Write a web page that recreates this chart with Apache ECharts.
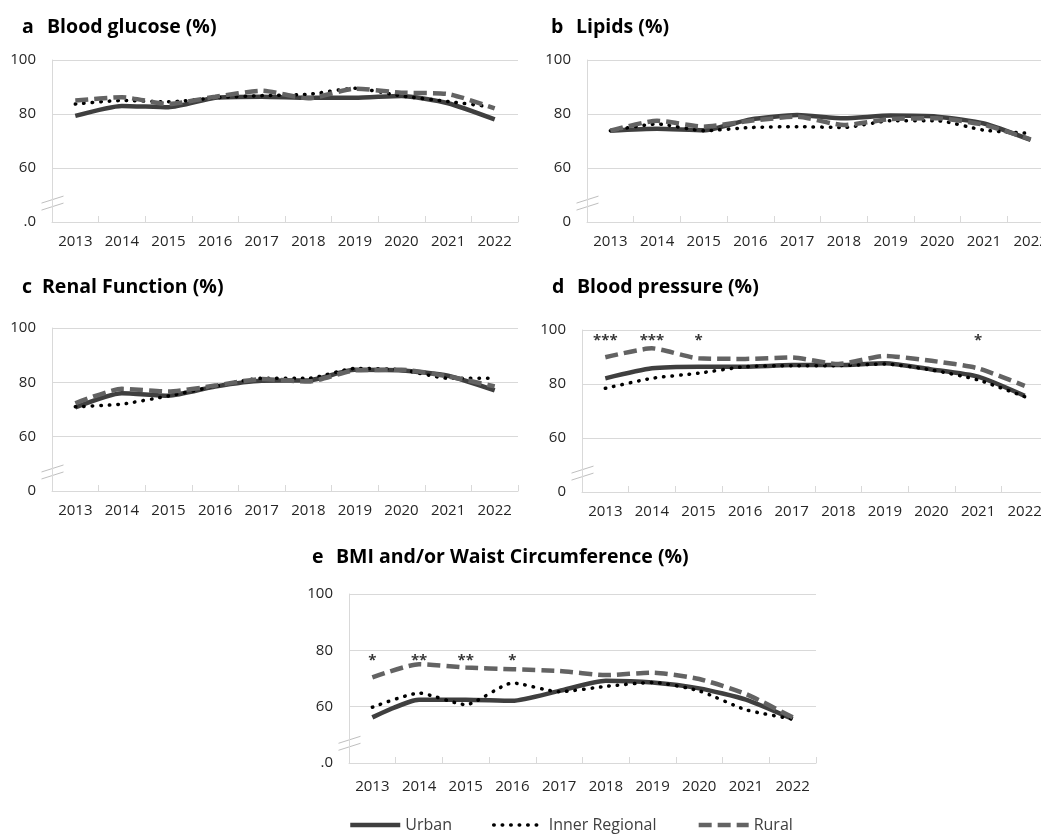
<!DOCTYPE html>
<html>
<head>
<meta charset="utf-8">
<script src="https://cdn.jsdelivr.net/npm/echarts@6.0.0/dist/echarts.min.js"></script>
<style>
  html, body { margin: 0; padding: 0; background: #fff; }
  #chart { width: 1041px; height: 835px; }
</style>
</head>
<body>
<div id="chart"></div>
<script>
const years = ['2013', '2014', '2015', '2016', '2017', '2018', '2019', '2020', '2021', '2022']
const seriesNames = ['Urban', 'Inner Regional', 'Rural']

// a 血糖
const glucoseUrban = [79.3, 83.0, 82.5, 86.0, 86.4, 86.0, 86.0, 86.7, 84.0, 78.0]
const glucoseInner = [83.7, 85.0, 84.5, 86.0, 86.8, 87.3, 89.5, 86.7, 84.6, 82.5]
const glucoseRural = [85.0, 86.2, 83.7, 86.4, 88.6, 85.8, 89.4, 87.9, 87.4, 82.1]

// b 血脂
const lipidsUrban = [73.8, 74.5, 74.0, 78.0, 79.6, 78.4, 79.4, 79.0, 76.5, 70.4]
const lipidsInner = [73.8, 76.3, 73.8, 75.0, 75.3, 75.0, 77.5, 77.5, 74.0, 72.8]
const lipidsRural = [73.8, 77.5, 75.3, 77.5, 79.0, 75.9, 78.1, 78.4, 76.0, 70.6]

// c 肾功能
const renalUrban = [70.8, 76.0, 75.1, 78.5, 80.6, 80.7, 84.6, 84.4, 82.4, 77.0]
const renalInner = [71.0, 72.0, 75.0, 78.5, 81.5, 81.5, 85.1, 84.6, 81.5, 81.5]
const renalRural = [72.3, 77.6, 76.6, 78.8, 81.2, 80.3, 84.4, 84.6, 82.2, 78.5]

// d 血压
const pressureUrban = [82.1, 85.8, 86.4, 86.4, 87.0, 87.0, 87.7, 85.4, 82.7, 75.6]
const pressureInner = [78.4, 82.1, 84.0, 86.4, 86.8, 86.8, 87.4, 85.2, 81.5, 75.3]
const pressureRural = [89.9, 93.2, 89.5, 89.3, 89.8, 87.4, 90.4, 88.6, 85.8, 79.3]
const pressureSig = ['***', '***', '*', '', '', '', '', '', '*', '']

// e BMI / 腰围
const bmiUrban = [56.2, 62.5, 62.5, 62.1, 65.6, 69.2, 68.6, 66.5, 62.5, 55.6]
const bmiInner = [59.8, 64.8, 60.7, 68.4, 65.3, 67.2, 68.6, 65.6, 58.9, 55.6]
const bmiRural = [70.4, 75.1, 73.9, 73.3, 72.7, 71.2, 72.1, 69.8, 64.5, 56.2]
const bmiSig = ['*', '**', '**', '*', '', '', '', '', '', '']

const font = 'Open Sans'
const gridColor = '#d9d9d9'
const textColor = '#262626'
const lineStyles = [
  { color: '#3f3f3f', width: 4.5, type: 'solid' },
  { color: '#000000', width: 3.5, type: [0.5, 8], cap: 'round' },
  { color: '#636363', width: 4.5, type: [13, 6] }
]

const panels = [
  { key: 'a', title: 'Blood glucose (%)', keyWidth: 25, titlePos: [22, 15], grid: { left: 52, top: 60, width: 466, height: 162 }, zero: '.0', labelMargin: 12, values: [glucoseUrban, glucoseInner, glucoseRural] },
  { key: 'b', title: 'Lipids (%)', keyWidth: 25, titlePos: [551, 15], grid: { left: 587, top: 60, width: 467, height: 162 }, zero: '0', labelMargin: 12, values: [lipidsUrban, lipidsInner, lipidsRural] },
  { key: 'c', title: 'Renal Function (%)', keyWidth: 20, titlePos: [22, 275], grid: { left: 52, top: 328, width: 466, height: 163 }, zero: '0', labelMargin: 12, values: [renalUrban, renalInner, renalRural] },
  { key: 'd', title: 'Blood pressure (%)', keyWidth: 25, titlePos: [552, 275], grid: { left: 582, top: 330, width: 466, height: 162 }, zero: '0', labelMargin: 12, values: [pressureUrban, pressureInner, pressureRural], sig: pressureSig, sigLevel: 96 },
  { key: 'e', title: 'BMI and/or Waist Circumference (%)', keyWidth: 24, titlePos: [312, 545], grid: { left: 349, top: 594, width: 467, height: 169 }, zero: '.0', labelMargin: 16, values: [bmiUrban, bmiInner, bmiRural], sig: bmiSig, sigLevel: 76.3 }
]

function buildSeries () {
  const series = []
  panels.forEach((p, i) => {
    p.values.forEach((vals, k) => {
      series.push({
        type: 'line',
        name: seriesNames[k],
        xAxisIndex: i,
        yAxisIndex: i,
        data: vals,
        symbol: 'none',
        smooth: 0.2,
        lineStyle: lineStyles[k],
        itemStyle: { color: lineStyles[k].color },
        emphasis: { disabled: true }
      })
    })
    if (p.sig) {
      series.push({
        type: 'scatter',
        name: 'sig-' + p.key,
        xAxisIndex: i,
        yAxisIndex: i,
        symbolSize: 0,
        data: p.sig.map(s => (s ? p.sigLevel : '-')),
        label: {
          show: true,
          position: 'inside',
          fontFamily: font,
          fontWeight: 'bold',
          fontSize: 15,
          color: '#000',
          formatter: params => p.sig[params.dataIndex]
        },
        emphasis: { disabled: true }
      })
    }
  })
  return series
}

const chart = echarts.init(document.getElementById('chart'))
chart.setOption({
  animation: false,
  backgroundColor: '#fff',
  title: panels.map(p => ({
    text: '{k|' + p.key + '}{t|' + p.title + '}',
    left: p.titlePos[0],
    top: p.titlePos[1],
    padding: 0,
    textStyle: {
      rich: {
        k: { width: p.keyWidth, fontFamily: font, fontWeight: 'bold', fontSize: 19.5, color: '#000', lineHeight: 24 },
        t: { fontFamily: font, fontWeight: 'bold', fontSize: 19.5, color: '#000', lineHeight: 24 }
      }
    }
  })),
  legend: {
    data: seriesNames.map((name, k) => ({
      name: name,
      lineStyle: { width: lineStyles[k].width, type: lineStyles[k].type, cap: lineStyles[k].cap || 'butt', color: lineStyles[k].color }
    })),
    left: 348,
    top: 817,
    padding: 0,
    itemWidth: 50,
    itemHeight: 14,
    itemGap: 40,
    itemStyle: { color: 'transparent', borderColor: 'transparent', borderWidth: 0, opacity: 0 },
    textStyle: { fontFamily: font, fontSize: 16, color: '#404040' }
  },
  grid: panels.map(p => Object.assign({ outerBoundsMode: 'none', containLabel: false }, p.grid)),
  xAxis: panels.map((p, i) => ({
    type: 'category',
    gridIndex: i,
    data: years,
    boundaryGap: true,
    axisLine: { show: true, lineStyle: { color: gridColor, width: 1 } },
    axisTick: { show: true, inside: true, length: 6, interval: 0, lineStyle: { color: gridColor } },
    axisLabel: { interval: 0, margin: p.labelMargin, color: textColor, fontFamily: font, fontSize: 15 },
    splitLine: { show: false }
  })),
  yAxis: panels.map((p, i) => ({
    type: 'value',
    gridIndex: i,
    min: 40,
    max: 100,
    interval: 20,
    axisLine: { show: true, lineStyle: { color: gridColor, width: 1 } },
    axisTick: { show: false },
    axisLabel: {
      margin: 16,
      color: textColor,
      fontFamily: font,
      fontSize: 15,
      formatter: v => (v === 40 ? p.zero : String(v))
    },
    splitLine: { show: true, lineStyle: { color: gridColor, width: 1 } }
  })),
  series: buildSeries()
})

// 断轴符号
const breakMarks = panels.map((p, i) => {
  const x = p.grid.left
  const y = chart.convertToPixel({ yAxisIndex: i }, 47)
  return {
    type: 'group',
    z: 100,
    children: [
      { type: 'polygon', shape: { points: [[x - 10.5, y], [x + 11.5, y - 7], [x + 11.5, y], [x - 10.5, y + 7]] }, style: { fill: '#fff' } },
      { type: 'line', shape: { x1: x - 10.5, y1: y, x2: x + 11.5, y2: y - 7 }, style: { stroke: '#bfbfbf', lineWidth: 1 } },
      { type: 'line', shape: { x1: x - 10.5, y1: y + 7, x2: x + 11.5, y2: y }, style: { stroke: '#bfbfbf', lineWidth: 1 } }
    ]
  }
})
chart.setOption({ graphic: breakMarks })
</script>
</body>
</html>
